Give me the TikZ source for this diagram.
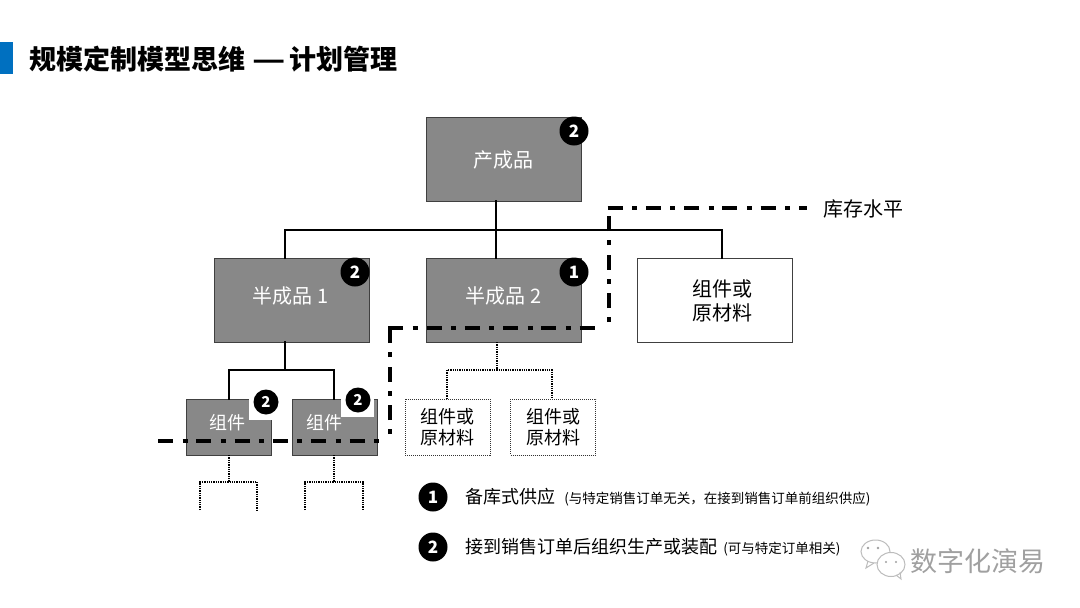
\documentclass[tikz,border=0pt]{standalone}
\usepackage{fontspec}
\setmainfont{Noto Sans CJK SC}
\usepackage{tikz}
\usetikzlibrary{positioning}

\definecolor{boxgray}{HTML}{888888}
\definecolor{barblue}{HTML}{0070C0}
\definecolor{markgray}{HTML}{A0A0A0}

\begin{document}
\begin{tikzpicture}[
    x=1pt, y=-1pt,
    every node/.style={outer sep=0pt},
    bigbox/.style={draw=black!75, line width=1pt, fill=boxgray, minimum width=155pt, minimum height=84pt, inner sep=0pt},
    smallbox/.style={draw=black!75, line width=1pt, fill=boxgray, minimum width=85pt, minimum height=56pt, inner sep=0pt},
    rawbox/.style={draw=black!75, line width=1pt, fill=white, minimum width=155pt, minimum height=84pt, inner sep=0pt},
    dotbox/.style={draw=black!80, line width=1pt, dash pattern=on 1pt off 1pt, fill=white, minimum width=85pt, minimum height=56pt, inner sep=0pt, align=center, font=\fontsize{18}{21}\selectfont},
    whitelbl/.style={text=white, font=\fontsize{#1}{24}\selectfont},
    badge/.style={circle, fill=black, text=white, inner sep=0pt, minimum size=29pt, font=\fontsize{17}{17}\selectfont\bfseries},
    smallbadge/.style={badge, minimum size=25pt, font=\fontsize{15}{15}\selectfont\bfseries},
    conn/.style={line width=2.8pt, line cap=rect},
    dotconn/.style={line width=2.8pt, dash pattern=on 1.3pt off 1pt},
    level/.style={line width=3.6pt, dash pattern=on 15pt off 9.5pt on 5pt off 8.8pt},
    levelup/.style={line width=3.6pt, dash pattern=on 5pt off 9pt on 15pt off 9.5pt},
    patch/.style={fill=white, inner sep=0pt},
    legend/.style={anchor=west, font=\fontsize{18}{22}\selectfont},
    legendnote/.style={font=\fontsize{13.6}{16}\selectfont}
]
\useasboundingbox (0,0) rectangle (1080,608);

% title
\node[fill=barblue, minimum width=13pt, minimum height=32pt, inner sep=0pt, anchor=north west] (titlebar) at (0,42) {};
\node[anchor=west, inner sep=0pt, font=\fontsize{27}{32}\selectfont\bfseries] (title) at (30,59) {规模定制模型思维 \scalebox{1.35}[1]{—}\hspace{-2pt} 计划管理};

% boxes
\node[bigbox, label={[whitelbl=20, yshift=-1pt]center:产成品}] (finished) at (503.5,159) {};
\node[bigbox, below=57pt of finished, label={[whitelbl=20, yshift=4pt]center:半成品 2}] (semiB) {};
\node[bigbox, left=57pt of semiB, label={[whitelbl=20, xshift=-1pt, yshift=4pt]center:半成品 1}] (semiA) {};
\node[rawbox, right=56pt of semiB, label={[align=center, xshift=7.5pt, yshift=-1pt, font=\fontsize{20}{24.5}\selectfont]center:组件或\\原材料}] (rawC) {};
\node[smallbox, below=57pt of semiA, xshift=-63pt, label={[whitelbl=18, xshift=-1pt, yshift=4pt]center:组件}] (partA) {};
\node[smallbox, right=21pt of partA, label={[whitelbl=18, xshift=-10pt, yshift=4pt]center:组件}] (partB) {};
\node[dotbox, below=57pt of semiB, xshift=-56pt] (rawA) {组件或\\原材料};
\node[dotbox, right=20.5pt of rawA] (rawB) {组件或\\原材料};

% bus points
\coordinate (busMain) at (496,230);
\coordinate (busLeft) at (285,230);
\coordinate (busRight) at (722,230);
\coordinate (busSemiA) at (285,370);
\coordinate (busPartA) at (229,370);
\coordinate (busPartB) at (334,370);
\coordinate (busSemiB) at (497,370);
\coordinate (busRawA) at (447,370);
\coordinate (busRawB) at (552,370);
\coordinate (stubA) at (229,482);
\coordinate (stubAl) at (200,482);
\coordinate (stubAr) at (257,482);
\coordinate (stubAle) at (200,510);
\coordinate (stubAre) at (257,510);
\coordinate (stubB) at (334,482);
\coordinate (stubBl) at (305,482);
\coordinate (stubBr) at (363,482);
\coordinate (stubBle) at (305,510);
\coordinate (stubBre) at (363,510);

% solid links
\draw[conn] (busMain |- finished.south) -- (busMain |- semiB.north);
\draw[conn] (busLeft |- semiA.north) -- (busLeft) -- (busRight) -- (busRight |- rawC.north);
\draw[conn] (busSemiA |- semiA.south) -- (busSemiA);
\draw[conn] (busPartA |- partA.north) -- (busPartA) -- (busPartB) -- (busPartB |- partB.north);

% dotted links
\draw[dotconn] (busSemiB |- semiB.south) -- (busSemiB);
\draw[dotconn] (busRawA |- rawA.north) -- (busRawA) -- (busRawB) -- (busRawB |- rawB.north);
\draw[dotconn] (stubA |- partA.south) -- (stubA);
\draw[dotconn] (stubAle) -- (stubAl) -- (stubAr) -- (stubAre);
\draw[dotconn] (stubB |- partB.south) -- (stubB);
\draw[dotconn] (stubBle) -- (stubBl) -- (stubBr) -- (stubBre);

% white patches behind the small badges
\node[patch, minimum width=23pt, minimum height=23pt, anchor=north west] (patchA) at (249,397) {};
\node[patch, minimum width=33pt, minimum height=20pt, anchor=north west] (patchB) at (341,397) {};

% level line
\coordinate (lvlA) at (158,441);
\coordinate (lvlB) at (381,441);
\coordinate (lvlC) at (390,434);
\coordinate (lvlD) at (390,326.2);
\coordinate (lvlE) at (388.2,328);
\coordinate (lvlF) at (598,328);
\coordinate (lvlG) at (609,322);
\coordinate (lvlH) at (609,216);
\coordinate (lvlI) at (607.5,208);
\coordinate (lvlJ) at (807,208);
\draw[level] (lvlA) -- (lvlB);
\draw[levelup] (lvlC) -- (lvlD);
\draw[level] (lvlE) -- (lvlF);
\draw[levelup] (lvlG) -- (lvlH);
\draw[level] (lvlI) -- (lvlJ);
\node[anchor=west, inner sep=0pt, font=\fontsize{20}{24}\selectfont] (lvlLabel) at (823,209) {库存水平};

% badges
\node[badge] (badgeTop) at (574,131) {2};
\node[badge] (badgeA) at (355,272) {2};
\node[badge] (badgeB) at (574,272) {1};
\node[smallbadge] (badgeC) at (266,402) {2};
\node[smallbadge] (badgeD) at (358,400) {2};

% legend
\node[badge] (keyOne) at (433,497) {1};
\node[badge] (keyTwo) at (433,547) {2};
\node[legend, right=16.5pt of keyOne, xshift=-2pt] (keyOneText) {备库式供应\hspace{9pt}{\fontsize{13.5}{16}\selectfont (与特定销售订单无关，在接到销售订单前组织供应)}};
\node[legend, right=16.5pt of keyTwo, xshift=-2pt] (keyTwoText) {接到销售订单后组织生产或装配\hspace{6pt}{\fontsize{13.5}{16}\selectfont (可与特定订单相关)}};

% watermark
\draw[markgray!70, line width=1pt, fill=white] (875.5,551.5) ellipse (14.5pt and 11.5pt);
\draw[markgray!70, line width=1pt] (868,561) -- (866,568) -- (874,563);
\draw[markgray!70, line width=1pt, fill=white] (891,564.5) ellipse (14pt and 12pt);
\draw[markgray!70, line width=1pt] (896,575) -- (901,579) -- (900,572);
\fill[markgray] (868,548) circle (1.3pt) (878,548) circle (1.3pt) (886,562) circle (1.2pt) (896,562) circle (1.2pt);
\node[anchor=west, inner sep=0pt, text=markgray, font=\fontsize{27}{32}\selectfont] (markText) at (910,561) {数字化演易};
\end{tikzpicture}
\end{document}
